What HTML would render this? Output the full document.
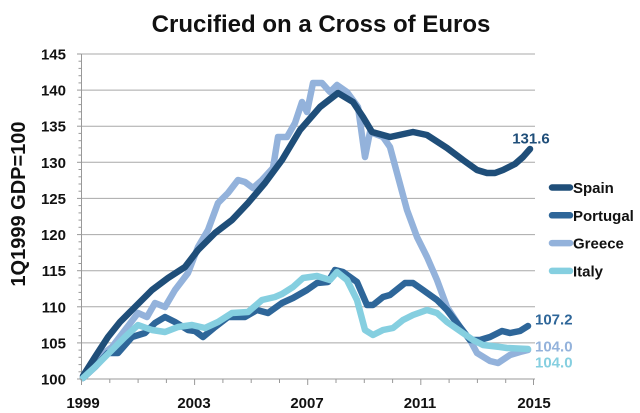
<!DOCTYPE html>
<html>
<head>
<meta charset="utf-8">
<style>
  html,body{margin:0;padding:0;background:#fff;}
  svg{display:block;}
  text{font-family:"Liberation Sans",Arial,sans-serif;font-weight:bold;}
</style>
</head>
<body>
<svg width="640" height="413" viewBox="0 0 640 413" xmlns="http://www.w3.org/2000/svg">
  <rect width="640" height="413" fill="#fff"/>
  <!-- Title -->
  <text x="321" y="32" font-size="24" text-anchor="middle" fill="#111">Crucified on a Cross of Euros</text>

  <!-- gridlines -->
  <g stroke="#a8a8a8" stroke-width="1">
    <line x1="81" y1="342.9" x2="535" y2="342.9"/>
    <line x1="81" y1="306.8" x2="535" y2="306.8"/>
    <line x1="81" y1="270.7" x2="535" y2="270.7"/>
    <line x1="81" y1="234.6" x2="535" y2="234.6"/>
    <line x1="81" y1="198.4" x2="535" y2="198.4"/>
    <line x1="81" y1="162.3" x2="535" y2="162.3"/>
    <line x1="81" y1="126.2" x2="535" y2="126.2"/>
    <line x1="81" y1="90.1" x2="535" y2="90.1"/>
    <line x1="81" y1="54" x2="535" y2="54"/>
  </g>
  <!-- axes -->
  <g stroke="#999" stroke-width="1">
    <line x1="81.5" y1="54" x2="81.5" y2="379"/>
    <line x1="81" y1="379" x2="535" y2="379"/>
  </g>

  <!-- y labels -->
  <g font-size="15" fill="#111" text-anchor="end">
    <text x="66" y="384.5">100</text>
    <text x="66" y="348.4">105</text>
    <text x="66" y="312.3">110</text>
    <text x="66" y="276.2">115</text>
    <text x="66" y="240.1">120</text>
    <text x="66" y="203.9">125</text>
    <text x="66" y="167.8">130</text>
    <text x="66" y="131.7">135</text>
    <text x="66" y="95.6">140</text>
    <text x="66" y="59.5">145</text>
  </g>
  <!-- x labels -->
  <g font-size="15" fill="#111" text-anchor="middle">
    <text x="83" y="408">1999</text>
    <text x="194" y="408">2003</text>
    <text x="307" y="408">2007</text>
    <text x="420" y="408">2011</text>
    <text x="534" y="408">2015</text>
  </g>
  <!-- y axis title -->
  <text transform="translate(25,204) rotate(-90)" font-size="20" fill="#111" text-anchor="middle">1Q1999 GDP=100</text>

  <!-- series -->
  <g fill="none" stroke-width="6.5" stroke-linejoin="round" stroke-linecap="round">
    <polyline stroke="#93b2db" points="83,378 95,360 112,347 125,330 138,313 147,317 155,303 165,307 175,290 188,273 198,247 208,230 218,203 228,193 238,180 245,182 253,188 262,180 273,168 278,137 287,137 295,123 302,102 307,112 313,83 322,83 330,92 337,85 347,92 358,107 365,157 370,132 383,137 390,147 397,173 407,210 417,237 427,257 437,280 447,307 460,327 470,340 477,353 490,361 498,363 510,355 520,352 528,350"/>
    <polyline stroke="#1f4e79" points="83,376 95,357 108,337 120,322 132,310 145,297 152,290 168,278 185,267 198,250 215,233 232,220 248,203 265,183 282,160 300,130 320,107 338,93 353,102 363,117 372,132 390,137 413,132 427,135 447,148 463,160 477,170 487,173 495,173 503,170 515,164 523,157 530,149"/>
    <polyline stroke="#2e6699" points="83,378 95,367 108,353 118,353 132,337 145,333 155,323 165,317 175,322 188,330 195,331 203,337 215,327 228,317 245,317 257,310 268,313 282,303 293,298 307,290 317,283 328,282 335,270 343,272 357,282 367,305 373,305 383,297 390,295 405,283 413,283 423,290 437,300 447,310 460,327 470,340 480,340 490,337 502,331 510,333 520,331 528,326"/>
    <polyline stroke="#85cfe0" points="83,378 95,367 112,350 125,337 138,325 152,330 165,332 178,327 192,325 205,328 218,322 232,313 248,312 262,300 275,297 282,294 293,287 303,278 317,276 330,280 337,272 347,280 357,300 365,330 373,335 383,330 393,328 403,320 413,315 427,310 437,313 447,322 460,331 473,340 483,345 500,347 507,348 528,349"/>
  </g>

  <!-- end labels -->
  <g font-size="15">
    <text x="531" y="143.5" text-anchor="middle" fill="#1f4e79">131.6</text>
    <text x="535" y="324.5" fill="#2e6699">107.2</text>
    <text x="535" y="351.5" fill="#93b2db">104.0</text>
    <text x="535" y="367.5" fill="#85cfe0">104.0</text>
  </g>

  <!-- legend -->
  <g stroke-width="6.5" stroke-linecap="round">
    <line x1="552" y1="187.5" x2="570" y2="187.5" stroke="#1f4e79"/>
    <line x1="552" y1="215.3" x2="570" y2="215.3" stroke="#2e6699"/>
    <line x1="552" y1="243.1" x2="570" y2="243.1" stroke="#93b2db"/>
    <line x1="552" y1="270.9" x2="570" y2="270.9" stroke="#85cfe0"/>
  </g>
  <g font-size="15" fill="#111">
    <text x="573" y="193">Spain</text>
    <text x="573" y="220.8">Portugal</text>
    <text x="573" y="248.6">Greece</text>
    <text x="573" y="276.4">Italy</text>
  </g>

  <!-- ticks -->
  <g stroke="#999" stroke-width="1">
    <line x1="77" y1="54" x2="81" y2="54"/>
    <line x1="78.5" y1="61.2" x2="81" y2="61.2"/><line x1="78.5" y1="68.4" x2="81" y2="68.4"/><line x1="78.5" y1="75.7" x2="81" y2="75.7"/><line x1="78.5" y1="82.9" x2="81" y2="82.9"/>
    <line x1="77" y1="90.1" x2="81" y2="90.1"/>
    <line x1="78.5" y1="97.3" x2="81" y2="97.3"/><line x1="78.5" y1="104.6" x2="81" y2="104.6"/><line x1="78.5" y1="111.8" x2="81" y2="111.8"/><line x1="78.5" y1="119" x2="81" y2="119"/>
    <line x1="77" y1="126.2" x2="81" y2="126.2"/>
    <line x1="78.5" y1="133.4" x2="81" y2="133.4"/><line x1="78.5" y1="140.7" x2="81" y2="140.7"/><line x1="78.5" y1="147.9" x2="81" y2="147.9"/><line x1="78.5" y1="155.1" x2="81" y2="155.1"/>
    <line x1="77" y1="162.3" x2="81" y2="162.3"/>
    <line x1="78.5" y1="169.5" x2="81" y2="169.5"/><line x1="78.5" y1="176.8" x2="81" y2="176.8"/><line x1="78.5" y1="184" x2="81" y2="184"/><line x1="78.5" y1="191.2" x2="81" y2="191.2"/>
    <line x1="77" y1="198.4" x2="81" y2="198.4"/>
    <line x1="78.5" y1="205.6" x2="81" y2="205.6"/><line x1="78.5" y1="212.9" x2="81" y2="212.9"/><line x1="78.5" y1="220.1" x2="81" y2="220.1"/><line x1="78.5" y1="227.3" x2="81" y2="227.3"/>
    <line x1="77" y1="234.6" x2="81" y2="234.6"/>
    <line x1="78.5" y1="241.8" x2="81" y2="241.8"/><line x1="78.5" y1="249" x2="81" y2="249"/><line x1="78.5" y1="256.2" x2="81" y2="256.2"/><line x1="78.5" y1="263.5" x2="81" y2="263.5"/>
    <line x1="77" y1="270.7" x2="81" y2="270.7"/>
    <line x1="78.5" y1="277.9" x2="81" y2="277.9"/><line x1="78.5" y1="285.1" x2="81" y2="285.1"/><line x1="78.5" y1="292.4" x2="81" y2="292.4"/><line x1="78.5" y1="299.6" x2="81" y2="299.6"/>
    <line x1="77" y1="306.8" x2="81" y2="306.8"/>
    <line x1="78.5" y1="314" x2="81" y2="314"/><line x1="78.5" y1="321.2" x2="81" y2="321.2"/><line x1="78.5" y1="328.5" x2="81" y2="328.5"/><line x1="78.5" y1="335.7" x2="81" y2="335.7"/>
    <line x1="77" y1="342.9" x2="81" y2="342.9"/>
    <line x1="78.5" y1="350.1" x2="81" y2="350.1"/><line x1="78.5" y1="357.3" x2="81" y2="357.3"/><line x1="78.5" y1="364.6" x2="81" y2="364.6"/><line x1="78.5" y1="371.8" x2="81" y2="371.8"/>
    <line x1="77" y1="379" x2="81" y2="379"/>
    <line x1="81.5" y1="379" x2="81.5" y2="385"/>
    <line x1="109.8" y1="379" x2="109.8" y2="383"/>
    <line x1="138.1" y1="379" x2="138.1" y2="383"/>
    <line x1="166.4" y1="379" x2="166.4" y2="383"/>
    <line x1="194.6" y1="379" x2="194.6" y2="385"/>
    <line x1="222.9" y1="379" x2="222.9" y2="383"/>
    <line x1="251.2" y1="379" x2="251.2" y2="383"/>
    <line x1="279.5" y1="379" x2="279.5" y2="383"/>
    <line x1="307.7" y1="379" x2="307.7" y2="385"/>
    <line x1="336" y1="379" x2="336" y2="383"/>
    <line x1="364.3" y1="379" x2="364.3" y2="383"/>
    <line x1="392.6" y1="379" x2="392.6" y2="383"/>
    <line x1="420.8" y1="379" x2="420.8" y2="385"/>
    <line x1="449.1" y1="379" x2="449.1" y2="383"/>
    <line x1="477.4" y1="379" x2="477.4" y2="383"/>
    <line x1="505.7" y1="379" x2="505.7" y2="383"/>
    <line x1="533.5" y1="379" x2="533.5" y2="385"/>
  </g>
</svg>
</body>
</html>
